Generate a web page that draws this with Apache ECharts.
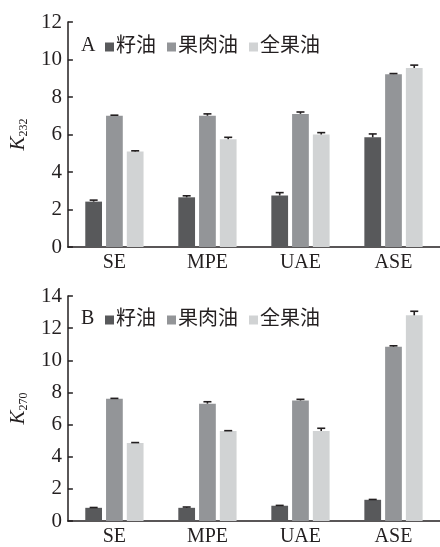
<!DOCTYPE html>
<html><head><meta charset="utf-8">
<script src="https://cdn.jsdelivr.net/npm/echarts@6/dist/echarts.min.js"></script>
<style>html,body{margin:0;padding:0;background:#fff}#c{width:440px;height:547px}</style>
</head><body><div id="c"></div>
<script>
const categories = ['SE', 'MPE', 'UAE', 'ASE'];
const seriesNames = ['籽油', '果肉油', '全果油'];
const colors = ['#58595b', '#939598', '#d1d3d4'];
// Panel A: K232
const k232Seed = [2.42, 2.65, 2.75, 5.85];
const k232SeedErr = [0.08, 0.08, 0.15, 0.18];
const k232Pulp = [7.0, 7.0, 7.1, 9.22];
const k232PulpErr = [0.03, 0.1, 0.1, 0.03];
const k232Whole = [5.1, 5.75, 6.0, 9.55];
const k232WholeErr = [0.03, 0.1, 0.1, 0.15];
// Panel B: K270
const k270Seed = [0.82, 0.82, 0.95, 1.32];
const k270SeedErr = [0.02, 0.05, 0.02, 0.02];
const k270Pulp = [7.6, 7.3, 7.5, 10.85];
const k270PulpErr = [0.03, 0.12, 0.07, 0.05];
const k270Whole = [4.85, 5.6, 5.6, 12.8];
const k270WholeErr = [0.03, 0.02, 0.17, 0.25];
const yTicksA = [0, 12, 2];
const yTicksB = [0, 14, 2];

const serif = '"Liberation Serif", "DejaVu Serif", "Noto Sans CJK SC", serif';
const BAR_FRAC = 0.18, GAP = 0.24;

function errSeries(vals, errs, idx, gi) {
  return {
    type: 'custom', xAxisIndex: gi, yAxisIndex: gi, z: 5, silent: true,
    data: vals.map((v, i) => [i, v, errs[i]]),
    encode: { x: 0, y: 1 },
    renderItem: function (params, api) {
      const ci = api.value(0), v = api.value(1), e = api.value(2);
      const base = api.coord([ci, v]);
      const top = api.coord([ci, v + e]);
      const bw = api.size([1, 0])[0];
      const x = base[0] + (idx - 1) * bw * BAR_FRAC * (1 + GAP);
      const half = 4;
      const st = { stroke: '#231f20', lineWidth: 1.6 };
      return { type: 'group', children: [
        { type: 'line', shape: { x1: x, y1: base[1], x2: x, y2: top[1] }, style: st },
        { type: 'line', shape: { x1: x - half, y1: top[1], x2: x + half, y2: top[1] }, style: st }
      ]};
    }
  };
}
function barSeries(vals, idx, gi) {
  return {
    name: seriesNames[idx], type: 'bar', xAxisIndex: gi, yAxisIndex: gi,
    data: vals, barWidth: (BAR_FRAC * 100) + '%', barGap: (GAP * 100) + '%',
    itemStyle: { color: colors[idx] }, silent: true
  };
}
function xAxis(gi) {
  return {
    type: 'category', gridIndex: gi, data: categories,
    axisLine: { lineStyle: { color: '#231f20', width: 1.5 } },
    axisTick: { inside: true, length: 6, lineStyle: { color: '#231f20', width: 1.5 } },
    axisLabel: { fontFamily: serif, fontSize: 20, color: '#231f20', margin: 6 }
  };
}
function yAxis(gi, t, sub) {
  return {
    type: 'value', gridIndex: gi, min: t[0], max: t[1], interval: t[2],
    splitLine: { show: false },
    axisLine: { show: true, lineStyle: { color: '#231f20', width: 1.5 } },
    axisTick: { show: true, inside: true, length: 5, lineStyle: { color: '#231f20', width: 1.5 } },
    axisLabel: { fontFamily: serif, fontSize: 21, color: '#231f20', margin: 6 },
    name: '{k|K}{s|' + sub + '}', nameLocation: 'middle', nameRotate: 90, nameGap: 28,
    nameTextStyle: { rich: {
      k: { fontFamily: serif, fontStyle: 'italic', fontSize: 21, color: '#231f20' },
      s: { fontFamily: serif, fontSize: 12, color: '#231f20', verticalAlign: 'bottom', padding: [11, 0, 0, 0] }
    } }
  };
}
function legend(top) {
  return {
    left: 100, top: top, itemWidth: 9, itemHeight: 9, itemGap: 11, icon: 'rect',
    data: seriesNames,
    textStyle: { fontFamily: serif, fontSize: 20, color: '#231f20', padding: [0, 0, 0, -3] }
  };
}
const chart = echarts.init(document.getElementById('c'));
chart.setOption({
  animation: false,
  title: [
    { text: 'A', left: 76, top: 31, textStyle: { fontFamily: serif, fontSize: 20, fontWeight: 'normal', color: '#231f20' } },
    { text: 'B', left: 76, top: 304, textStyle: { fontFamily: serif, fontSize: 20, fontWeight: 'normal', color: '#231f20' } }
  ],
  legend: [legend(32), legend(305)],
  grid: [
    { left: 64, top: 22, width: 378, height: 225 },
    { left: 64, top: 296, width: 378, height: 225 }
  ],
  xAxis: [xAxis(0), xAxis(1)],
  yAxis: [yAxis(0, yTicksA, '232'), yAxis(1, yTicksB, '270')],
  series: [
    barSeries(k232Seed, 0, 0), barSeries(k232Pulp, 1, 0), barSeries(k232Whole, 2, 0),
    barSeries(k270Seed, 0, 1), barSeries(k270Pulp, 1, 1), barSeries(k270Whole, 2, 1),
    errSeries(k232Seed, k232SeedErr, 0, 0), errSeries(k232Pulp, k232PulpErr, 1, 0), errSeries(k232Whole, k232WholeErr, 2, 0),
    errSeries(k270Seed, k270SeedErr, 0, 1), errSeries(k270Pulp, k270PulpErr, 1, 1), errSeries(k270Whole, k270WholeErr, 2, 1)
  ]
});
</script></body></html>
